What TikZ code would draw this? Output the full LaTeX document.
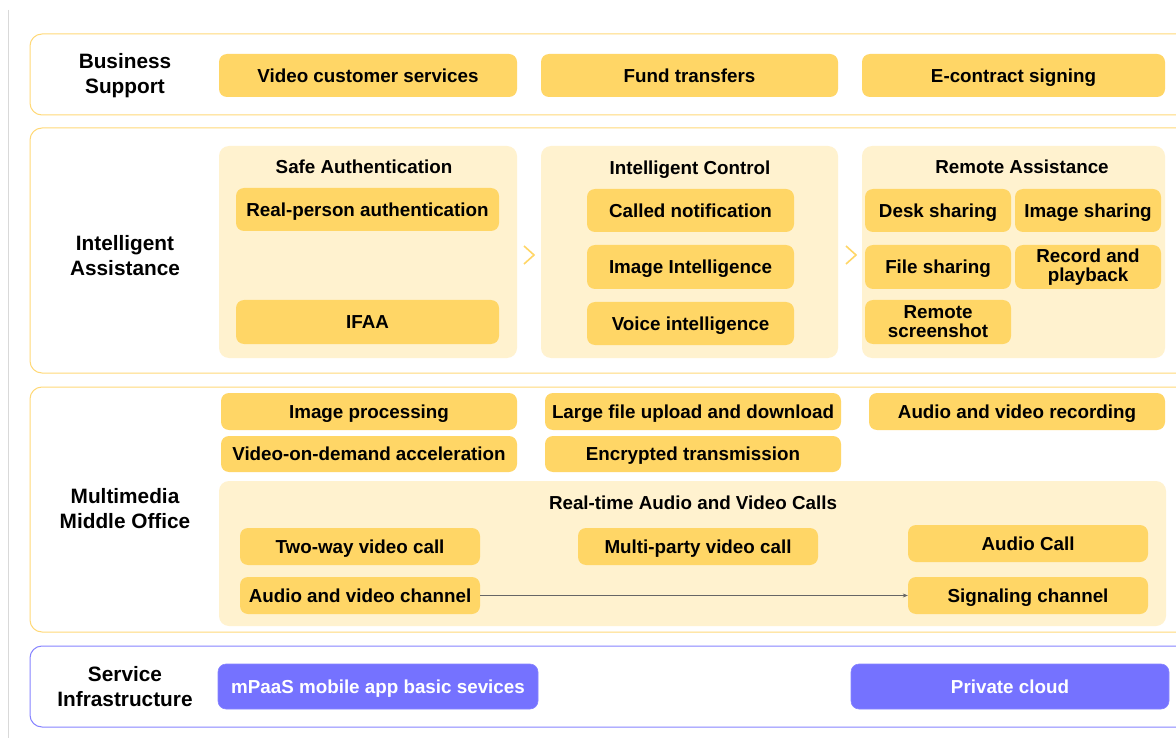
\documentclass[tikz,border=0pt]{standalone}
\usepackage{fontspec}
\setmainfont{Liberation Sans}
\usetikzlibrary{arrows.meta}
\definecolor{boxY}{RGB}{255,214,102}
\definecolor{panelY}{RGB}{255,242,207}
\definecolor{lineY}{RGB}{255,217,120}
\definecolor{boxP}{RGB}{117,114,255}
\definecolor{lineP}{RGB}{135,132,255}
\definecolor{edgeG}{RGB}{217,217,217}
\tikzset{
  mbox/.style={fill=boxY, rounded corners=8pt, inner sep=0pt, align=center,
    font=\bfseries\fontsize{18.8}{19}\selectfont, text=black},
  box/.style={mbox, text height=13.5pt, text depth=0pt},
  pbox/.style={box, fill=boxP, draw=lineP, line width=0.6pt, text=white},
  panel/.style={fill=panelY, rounded corners=10pt, inner sep=0pt},
  layer/.style={draw=lineY, line width=1pt, rounded corners=12pt, fill=white},
  player/.style={layer, draw=lineP},
  ttl/.style={font=\bfseries\fontsize{18.8}{19}\selectfont, inner sep=0pt, text height=13.5pt, text depth=0pt},
  lbl/.style={font=\bfseries\fontsize{20.8}{25.5}\selectfont, align=center, inner sep=0pt},
  chev/.style={draw=boxY, line width=1.6pt},
}
\begin{document}
\begin{tikzpicture}[x=1pt,y=-1pt]
\useasboundingbox (0,0) rectangle (1176,738);
\fill[white] (0,0) rectangle (1176,738);
\draw[edgeG, line width=1pt] (8,10) -- (8,738);
% layers
\draw[layer] (30,34) rectangle (1200,115);
\draw[layer] (30,128) rectangle (1200,373);
\draw[layer] (30,387) rectangle (1200,632);
\draw[player] (30,646) rectangle (1200,727);
\node[lbl] (lbs) at (125,75.5) {Business\\Support};
\node[lbl] (lia) at (125,255.5) {Intelligent\\Assistance};
\node[lbl] (lmm) at (125,508.5) {Multimedia\\Middle Office};
\node[lbl] (lsi) at (125,686.5) {Service\\Infrastructure};
% business
\node[box, minimum width=298pt, minimum height=43pt] (vcs) at (368,75.5) {Video customer services};
\node[box, minimum width=297pt, minimum height=43pt] (fund) at (689.5,75.5) {Fund transfers};
\node[box, minimum width=303pt, minimum height=43pt] (econ) at (1013.5,75.5) {E-contract signing};
% intelligent assistance panels
\node[panel, minimum width=298pt, minimum height=212pt] (psa) at (368,252) {};
\node[panel, minimum width=297pt, minimum height=212pt] (pic) at (689.5,252) {};
\node[panel, minimum width=303pt, minimum height=212pt] (pra) at (1013.5,252) {};
\node[ttl] (tsa) at (364,166.5) {Safe Authentication};
\node[ttl] (tic) at (690,167.5) {Intelligent Control};
\node[ttl] (tra) at (1022,166.5) {Remote Assistance};
\node[box, minimum width=263pt, minimum height=43pt] (rpa) at (367.5,209.5) {Real-person authentication};
\node[box, minimum width=263pt, minimum height=44pt] (ifaa) at (367.5,322) {IFAA};
\node[box, minimum width=207pt, minimum height=43pt] (cn) at (690.5,210.5) {Called notification};
\node[box, minimum width=207pt, minimum height=44pt] (ii) at (690.5,267) {Image Intelligence};
\node[box, minimum width=207pt, minimum height=43pt] (vi) at (690.5,323.5) {Voice intelligence};
\node[box, minimum width=146pt, minimum height=43pt] (ds) at (938,210.5) {Desk sharing};
\node[box, minimum width=146pt, minimum height=43pt] (is) at (1088,210.5) {Image sharing};
\node[box, minimum width=146pt, minimum height=44pt] (fs) at (938,267) {File sharing};
\node[mbox, minimum width=146pt, minimum height=44pt] (rp) at (1088,267) {Record and\\playback};
\node[mbox, minimum width=146pt, minimum height=44pt] (rs) at (938,322) {Remote\\screenshot};
\draw[chev] (524,246) -- (534,255) -- (524,264);
\draw[chev] (846,246) -- (856,255) -- (846,264);
% multimedia
\node[box, minimum width=296pt, minimum height=37pt] (ip) at (369,411.5) {Image processing};
\node[box, minimum width=296pt, minimum height=37pt] (lf) at (693,411.5) {Large file upload and download};
\node[box, minimum width=296pt, minimum height=37pt] (avr) at (1017,411.5) {Audio and video recording};
\node[box, minimum width=296pt, minimum height=36pt] (vod) at (369,454) {Video-on-demand acceleration};
\node[box, minimum width=296pt, minimum height=36pt] (et) at (693,454) {Encrypted transmission};
\node[panel, minimum width=947pt, minimum height=145pt] (prt) at (692.5,553.5) {};
\node[ttl] (trt) at (693,502.5) {Real-time Audio and Video Calls};
\node[box, minimum width=240pt, minimum height=37pt] (tw) at (360,546.5) {Two-way video call};
\node[box, minimum width=240pt, minimum height=37pt] (mp) at (698,546.5) {Multi-party video call};
\node[box, minimum width=240pt, minimum height=37pt] (ac) at (1028,543.5) {Audio Call};
\node[box, minimum width=240pt, minimum height=37pt] (avc) at (360,595.5) {Audio and video channel};
\node[box, minimum width=240pt, minimum height=37pt] (sc) at (1028,595.5) {Signaling channel};
\draw[-{Stealth[length=5pt,width=4pt]}, line width=0.6pt, draw=black!60] (avc.east) -- (sc.west);
% service infrastructure
\node[pbox, minimum width=320pt, minimum height=45pt] (mpaas) at (378,686.5) {mPaaS mobile app basic sevices};
\node[pbox, minimum width=318pt, minimum height=45pt] (pc) at (1010,686.5) {Private cloud};
\end{tikzpicture}
\end{document}
